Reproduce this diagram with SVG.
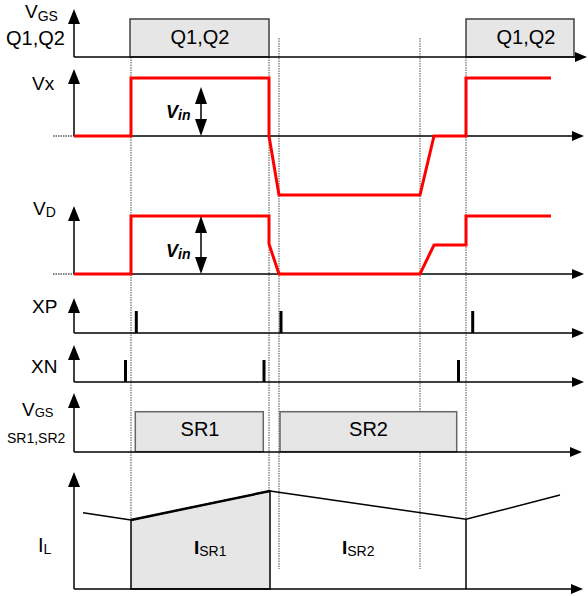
<svg xmlns="http://www.w3.org/2000/svg" width="588" height="596" viewBox="0 0 588 596">
<style>
text{font-family:"Liberation Sans",Arial,sans-serif;fill:#000}
.lbl{font-size:19px}
.sub{font-size:14px}
.box{fill:#e6e6e6;stroke:#404040;stroke-width:1.5}
.sbox{fill:#e6e6e6;stroke:#666;stroke-width:1.5}
.ax{stroke:#000;stroke-width:1.5;fill:none}
.hx{marker-end:url(#ah)}
.vx{marker-end:url(#av)}
.dot{stroke:#505050;stroke-width:1;stroke-dasharray:1.5 1;fill:none}
.kdot{stroke:#000;stroke-width:1;stroke-dasharray:1.5 1;fill:none}
.red{stroke:#ff0000;stroke-width:3;fill:none;stroke-linejoin:miter}
.pulse{stroke:#000;stroke-width:3}
.vin{font-weight:bold;font-style:italic}
.il{stroke:#000;stroke-width:1.5;fill:none}
</style>
<defs>
<marker id="ah" markerUnits="userSpaceOnUse" markerWidth="12" markerHeight="10" refX="8" refY="5" orient="auto"><path d="M0,0 L12,5 L0,10 Z" fill="#000"/></marker>
<marker id="av" markerUnits="userSpaceOnUse" markerWidth="15" markerHeight="12" refX="11" refY="6" orient="auto"><path d="M0,0 L15,6 L0,12 Z" fill="#000"/></marker>
<marker id="ad" markerUnits="userSpaceOnUse" markerWidth="17" markerHeight="12" refX="13" refY="6" orient="auto-start-reverse"><path d="M0,0 L17,6 L0,12 Z" fill="#000"/></marker>
</defs>
<rect width="588" height="596" fill="#fff"/>

<g id="timing-markers">
<line class="dot" x1="131" y1="57" x2="131" y2="520"/>
<line class="dot" x1="269" y1="57" x2="269" y2="491"/>
<line class="dot" x1="279" y1="38" x2="279" y2="569"/>
<line class="dot" x1="420" y1="38" x2="420" y2="569"/>
<line class="dot" x1="466" y1="57" x2="466" y2="519"/>
</g>

<g id="vgs-q">
<rect class="box" x="130" y="19" width="139" height="38"/>
<rect class="box" x="466" y="19" width="108" height="38"/>
<line class="ax vx" x1="74" y1="57" x2="74" y2="13"/>
<line class="ax hx" x1="74" y1="57" x2="583" y2="57"/>
<text class="lbl" x="25" y="18">V<tspan class="sub" dy="3">GS</tspan></text>
<text x="6" y="45" font-size="20">Q1,Q2</text>
<text x="200" y="44" font-size="20" text-anchor="middle">Q1,Q2</text>
<text x="526" y="44" font-size="20" text-anchor="middle">Q1,Q2</text>
</g>

<g id="vx">
<line class="kdot" x1="53" y1="136" x2="74" y2="136"/>
<line class="ax vx" x1="74" y1="136" x2="74" y2="73"/>
<line class="ax hx" x1="74" y1="136" x2="580" y2="136"/>
<path class="red" d="M74,136 H131 V78 H269 V136 L279,195 H420 L434,136 H466 V78 H551"/>
<line class="ax" x1="201" y1="91" x2="201" y2="132" marker-start="url(#ad)" marker-end="url(#ad)"/>
<text class="lbl" x="32" y="90">Vx</text>
<text class="vin" x="166" y="118" font-size="18">V<tspan font-size="14" dy="2">in</tspan></text>
</g>

<g id="vd">
<line class="kdot" x1="53" y1="274" x2="74" y2="274"/>
<line class="ax vx" x1="74" y1="274" x2="74" y2="210"/>
<line class="ax hx" x1="74" y1="274" x2="580" y2="274"/>
<path class="red" d="M74,274 H131 V216 H269 V244 L279,274 H420 L434,245 H466 V216 H551"/>
<line class="ax" x1="201" y1="220" x2="201" y2="270" marker-start="url(#ad)" marker-end="url(#ad)"/>
<text class="lbl" x="33" y="215">V<tspan class="sub" dy="2">D</tspan></text>
<text class="vin" x="166" y="257" font-size="18">V<tspan font-size="14" dy="2">in</tspan></text>
</g>

<g id="xp">
<line class="ax vx" x1="74" y1="333" x2="74" y2="302"/>
<line class="ax hx" x1="74" y1="333" x2="580" y2="333"/>
<line class="pulse" x1="136.3" y1="311" x2="136.3" y2="333"/>
<line class="pulse" x1="281" y1="311" x2="281" y2="333"/>
<line class="pulse" x1="472.7" y1="311" x2="472.7" y2="333"/>
<text class="lbl" x="32" y="313">XP</text>
</g>

<g id="xn">
<line class="ax vx" x1="74" y1="382" x2="74" y2="349"/>
<line class="ax hx" x1="74" y1="382" x2="580" y2="382"/>
<line class="pulse" x1="125.5" y1="360" x2="125.5" y2="382"/>
<line class="pulse" x1="264" y1="360" x2="264" y2="382"/>
<line class="pulse" x1="458.5" y1="360" x2="458.5" y2="382"/>
<text class="lbl" x="31" y="373">XN</text>
</g>

<g id="vgs-sr">
<rect class="sbox" x="135.3" y="411.7" width="128" height="40"/>
<rect class="sbox" x="280" y="411.7" width="176.7" height="40"/>
<line class="ax vx" x1="74" y1="452" x2="74" y2="397"/>
<line class="ax hx" x1="74" y1="452" x2="578" y2="452"/>
<text class="lbl" x="22" y="415.7">V<tspan font-size="13" dy="1.5">GS</tspan></text>
<text x="7" y="443" font-size="14">SR1,SR2</text>
<text x="200" y="436" font-size="20" text-anchor="middle">SR1</text>
<text x="368.5" y="436" font-size="20" text-anchor="middle">SR2</text>
</g>

<g id="il">
<path d="M131,589 V520 L270,491 V589 Z" fill="#e6e6e6" stroke="#000" stroke-width="1.5"/>
<line x1="131" y1="520" x2="270" y2="491" stroke="#000" stroke-width="2.5"/>
<path class="il" d="M83,512.7 L131,520"/>
<path class="il" d="M270,491 L466,519.3 L560,495"/>
<line class="il" x1="466" y1="519.3" x2="466" y2="589"/>
<line class="ax vx" x1="74" y1="589" x2="74" y2="476"/>
<line class="ax hx" x1="74" y1="589" x2="579" y2="589"/>
<text x="38" y="552" font-size="20">I<tspan class="sub" dy="2">L</tspan></text>
<text x="194" y="554" font-size="19" font-weight="bold">I<tspan font-size="14" font-weight="normal" dy="2">SR1</tspan></text>
<text x="342" y="554" font-size="19" font-weight="bold">I<tspan font-size="14" font-weight="normal" dy="2">SR2</tspan></text>
</g>
</svg>
